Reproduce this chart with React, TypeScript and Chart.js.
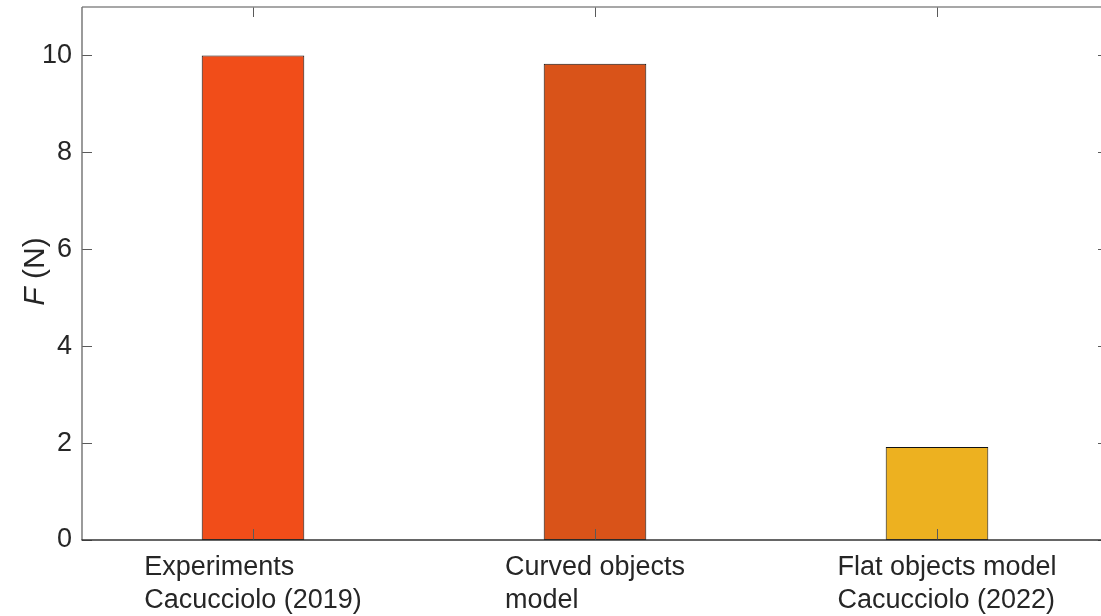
import React, { useEffect, useRef } from "react";
import { Chart, registerables } from "chart.js";

Chart.register(...registerables);

const categories: string[][] = [
  ["Experiments", "Cacucciolo (2019)"],
  ["Curved objects", "model"],
  ["Flat objects model", "Cacucciolo (2022)"],
];
const forces: number[] = [10.0, 9.83, 1.92];
const barColors: string[] = ["#F14D19", "#D95319", "#EDB120"];
const yTicks: number[] = [0, 2, 4, 6, 8, 10];
const yMin = 0;
const yMax = 11;

// layout-only nudges for the x tick label blocks (px)
const labelShift: number[] = [0, 0, 10];

const FONT = "'Liberation Sans', Arial, Helvetica, sans-serif";
const FS = 27;
const TITLE_FS = 30;

const axesPlugin = {
  id: "matlabAxes",
  afterDatasetsDraw(chart: any) {
    const { ctx, chartArea, scales } = chart;
    const { left, right, top, bottom } = chartArea;
    const x = scales.x;
    const y = scales.y;
    ctx.save();
    const line = (x1: number, y1: number, x2: number, y2: number) => {
      ctx.beginPath();
      ctx.moveTo(x1, y1);
      ctx.lineTo(x2, y2);
      ctx.stroke();
    };
    ctx.strokeStyle = "#5a5a5a";
    ctx.lineWidth = 1;
    y.ticks.forEach((t: any) => {
      const py = Math.round(y.getPixelForValue(t.value)) + 0.5;
      line(left, py, left + 10, py);
      line(right - 10, py, right, py);
    });
    x.ticks.forEach((_t: any, i: number) => {
      const px = Math.round(x.getPixelForTick(i)) + 0.5;
      line(px, bottom, px, bottom - 11);
      line(px, top, px, top + 10);
    });
    ctx.lineWidth = 1.4;
    ctx.strokeStyle = "#8a8a8a";
    line(left, top, right, top);
    ctx.strokeStyle = "#707070";
    line(left, top, left, bottom);
    line(right, top, right, bottom);
    ctx.strokeStyle = "#333333";
    ctx.lineWidth = 1.6;
    line(left - 0.5, bottom, right, bottom);
    ctx.restore();
  },
  afterDraw(chart: any) {
    const { ctx, chartArea, scales } = chart;
    const { top, bottom } = chartArea;
    const x = scales.x;
    ctx.save();
    ctx.fillStyle = "#262626";
    ctx.font = `${FS}px ${FONT}`;
    ctx.textAlign = "left";
    ctx.textBaseline = "alphabetic";
    categories.forEach((lines, i) => {
      const px = x.getPixelForTick(i);
      const w = Math.max(...lines.map((l) => ctx.measureText(l).width));
      const lx = px - w / 2 + labelShift[i];
      lines.forEach((l, j) => {
        ctx.fillText(l, lx, bottom + 34.5 + j * 33);
      });
    });
    const cy = (top + bottom) / 2 - 2;
    ctx.translate(44, cy);
    ctx.rotate(-Math.PI / 2);
    ctx.font = `italic ${TITLE_FS}px ${FONT}`;
    const wF = ctx.measureText("F").width;
    ctx.font = `${TITLE_FS}px ${FONT}`;
    const wR = ctx.measureText(" (N)").width;
    const start = -(wF + wR) / 2;
    ctx.font = `italic ${TITLE_FS}px ${FONT}`;
    ctx.fillText("F", start, 0);
    ctx.font = `${TITLE_FS}px ${FONT}`;
    ctx.fillText(" (N)", start + wF, 0);
    ctx.restore();
  },
};

export default function App() {
  const ref = useRef<HTMLCanvasElement | null>(null);
  useEffect(() => {
    if (!ref.current) return;
    const chart = new Chart(ref.current, {
      type: "bar",
      data: {
        labels: categories.map((c) => c.join(" ")),
        datasets: [
          {
            data: forces,
            backgroundColor: barColors,
            borderColor: "#111111",
            borderWidth: 1,
            borderSkipped: false,
            barPercentage: 0.3,
            categoryPercentage: 1,
          },
        ],
      },
      options: {
        responsive: false,
        animation: false,
        devicePixelRatio: 1,
        layout: { padding: { top: 7, left: 0, right: 0, bottom: 0 } },
        plugins: { legend: { display: false }, tooltip: { enabled: false }, title: { display: false } },
        scales: {
          x: {
            grid: { display: false, drawTicks: false },
            border: { display: false },
            ticks: { display: false },
            afterFit: (s: any) => {
              s.height = 76;
              s.paddingLeft = 0;
              s.paddingRight = 0;
            },
          },
          y: {
            min: yMin,
            max: yMax,
            grid: { display: false, drawTicks: false },
            border: { display: false },
            ticks: {
              stepSize: 2,
              padding: 10,
              color: "#262626",
              font: { family: FONT, size: FS },
            },
            afterBuildTicks: (s: any) => {
              s.ticks = yTicks.map((v) => ({ value: v }));
            },
            afterFit: (s: any) => {
              s.width = 82;
              s.paddingTop = 0;
              s.paddingBottom = 0;
            },
          },
        },
      } as any,
      plugins: [axesPlugin],
    });
    return () => chart.destroy();
  }, []);
  return (
    <div
      style={{
        position: "fixed",
        left: 0,
        top: 0,
        width: 1101,
        height: 616,
        overflow: "hidden",
        background: "#fff",
      }}
    >
      <canvas ref={ref} width={1108} height={616} style={{ width: 1108, height: 616, display: "block" }} />
    </div>
  );
}
